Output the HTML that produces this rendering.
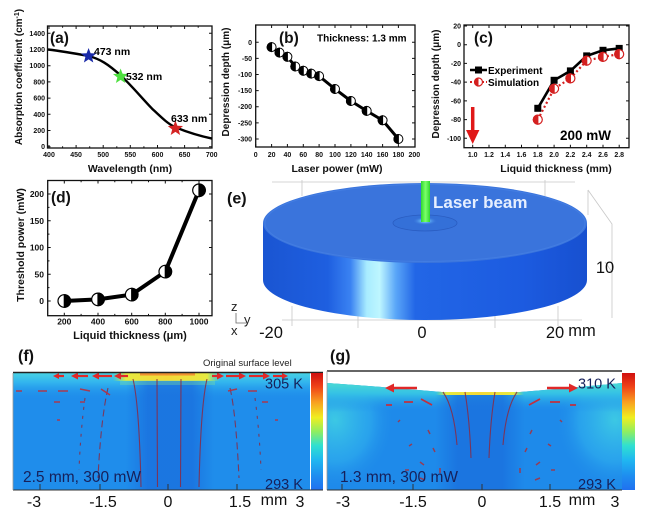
<!DOCTYPE html>
<html><head><meta charset="utf-8">
<style>
html,body{margin:0;padding:0;background:#fff;}
svg{display:block;font-family:"Liberation Sans",Arial,sans-serif;}
.t{font-size:7px;font-weight:bold;fill:#111;}
.ttl{font-size:10.5px;font-weight:bold;fill:#111;}
.pl{font-size:15.5px;font-weight:bold;fill:#111;}
</style></head><body>
<svg width="647" height="517" viewBox="0 0 647 517" xmlns="http://www.w3.org/2000/svg">
<defs>
 <polygon id="star" points="0,-8 2,-2.75 7.61,-2.47 3.23,1.05 4.7,6.47 0,3.4 -4.7,6.47 -3.23,1.05 -7.61,-2.47 -2,-2.75"/>
 <linearGradient id="side" x1="263" x2="587" y1="0" y2="0" gradientUnits="userSpaceOnUse">
  <stop offset="0" stop-color="#1a55d2"/>
  <stop offset="0.2" stop-color="#1e5fe0"/>
  <stop offset="0.27" stop-color="#3a82f2"/>
  <stop offset="0.32" stop-color="#a8ecff"/>
  <stop offset="0.36" stop-color="#bef6ff"/>
  <stop offset="0.41" stop-color="#5aa6f8"/>
  <stop offset="0.47" stop-color="#2266e6"/>
  <stop offset="0.8" stop-color="#1c5be0"/>
  <stop offset="1" stop-color="#1750d0"/>
 </linearGradient>
 <radialGradient id="spot" cx="0.5" cy="0.5" r="0.5">
  <stop offset="0" stop-color="#b8f6ff"/>
  <stop offset="0.4" stop-color="#5aaaf0"/>
  <stop offset="1" stop-color="#3a74dc" stop-opacity="0"/>
 </radialGradient>
 <linearGradient id="beam" x1="0" x2="1" y1="0" y2="0">
  <stop offset="0" stop-color="#30d830"/>
  <stop offset="0.5" stop-color="#7cff6a"/>
  <stop offset="1" stop-color="#30d830"/>
 </linearGradient>
 <linearGradient id="cbar" x1="0" x2="0" y1="0" y2="1">
  <stop offset="0" stop-color="#d01010"/>
  <stop offset="0.12" stop-color="#f04418"/>
  <stop offset="0.25" stop-color="#f8a020"/>
  <stop offset="0.38" stop-color="#f0ee20"/>
  <stop offset="0.5" stop-color="#90ee60"/>
  <stop offset="0.62" stop-color="#30e0d0"/>
  <stop offset="0.74" stop-color="#20b8f0"/>
  <stop offset="0.87" stop-color="#1e90f0"/>
  <stop offset="1" stop-color="#2070f0"/>
 </linearGradient>
 <linearGradient id="fTop" x1="0" x2="0" y1="373" y2="400" gradientUnits="userSpaceOnUse">
  <stop offset="0" stop-color="#48d2e4"/>
  <stop offset="0.35" stop-color="#32b4ee"/>
  <stop offset="1" stop-color="#1f8deb" stop-opacity="0"/>
 </linearGradient>
 <linearGradient id="col" x1="0" x2="1" y1="0" y2="0">
  <stop offset="0" stop-color="#1a70de" stop-opacity="0"/>
  <stop offset="0.25" stop-color="#1a70de" stop-opacity="0.8"/>
  <stop offset="0.75" stop-color="#1a70de" stop-opacity="0.8"/>
  <stop offset="1" stop-color="#1a70de" stop-opacity="0"/>
 </linearGradient>
 <linearGradient id="hot" x1="0" x2="1" y1="0" y2="0">
  <stop offset="0" stop-color="#a0e860" stop-opacity="0"/>
  <stop offset="0.12" stop-color="#e6ea40"/>
  <stop offset="0.5" stop-color="#f4d838"/>
  <stop offset="0.88" stop-color="#e6ea40"/>
  <stop offset="1" stop-color="#a0e860" stop-opacity="0"/>
 </linearGradient>
 <linearGradient id="gTop" x1="0" x2="0" y1="382" y2="412" gradientUnits="userSpaceOnUse">
  <stop offset="0" stop-color="#4cdcd2"/>
  <stop offset="0.4" stop-color="#34c0e6"/>
  <stop offset="1" stop-color="#1e8aea" stop-opacity="0"/>
 </linearGradient>
 <radialGradient id="gCorner" cx="0.5" cy="0.5" r="0.5">
  <stop offset="0" stop-color="#3cc8e4"/>
  <stop offset="0.6" stop-color="#30b2ee" stop-opacity="0.6"/>
  <stop offset="1" stop-color="#1e8aea" stop-opacity="0"/>
 </radialGradient>
 <clipPath id="gClip"><path d="M327,383 Q385,387 442,392 L520,392 Q570,388 622,383 L622,490 L327,490 Z"/></clipPath>
</defs>

<rect width="647" height="517" fill="#fff"/>

<!-- ================= (a) ================= -->
<rect x="47.5" y="26" width="164.5" height="122" fill="none" stroke="#111" stroke-width="1.3"/>
<path d="M49,148v-3M76.1,148v-3M103.2,148v-3M130.3,148v-3M157.5,148v-3M184.6,148v-3M62.6,148v-1.8M89.7,148v-1.8M116.8,148v-1.8M143.9,148v-1.8M171,148v-1.8M198.2,148v-1.8
M49,26v3M76.1,26v3M103.2,26v3M130.3,26v3M157.5,26v3M184.6,26v3M62.6,26v1.8M89.7,26v1.8M116.8,26v1.8M143.9,26v1.8M171,26v1.8M198.2,26v1.8
M47.5,146.7h3M47.5,130.5h3M47.5,114.3h3M47.5,98.1h3M47.5,81.9h3M47.5,65.7h3M47.5,49.5h3M47.5,33.3h3
M212,146.7h-3M212,130.5h-3M212,114.3h-3M212,98.1h-3M212,81.9h-3M212,65.7h-3M212,49.5h-3M212,33.3h-3" stroke="#111" stroke-width="1"/>
<g class="t" text-anchor="end">
<text x="45" y="149.2">0</text><text x="45" y="133">200</text><text x="45" y="116.8">400</text><text x="45" y="100.6">600</text><text x="45" y="84.4">800</text><text x="45" y="68.2">1000</text><text x="45" y="52">1200</text><text x="45" y="35.8">1400</text>
</g>
<g class="t" text-anchor="middle">
<text x="49" y="157">400</text><text x="76.1" y="157">450</text><text x="103.2" y="157">500</text><text x="130.3" y="157">550</text><text x="157.5" y="157">600</text><text x="184.6" y="157">650</text><text x="211.7" y="157">700</text>
</g>
<path d="M48,49.5 C60,51 75,53.5 88.6,56 C100,59 108,64 120.6,75.4 C132,86 140,96 152,108.6 C162,118 168,124 175.4,127.3 C188,132.5 200,136 212,138.6" fill="none" stroke="#000" stroke-width="2.4"/>
<use href="#star" transform="translate(88.6,56)" fill="#1a2aa8"/>
<use href="#star" transform="translate(120.6,76.5)" fill="#4ee040"/>
<use href="#star" transform="translate(175.4,128.5)" fill="#d42424"/>
<text x="94" y="55" style="font-size:10.5px;font-weight:bold">473 nm</text>
<text x="126" y="80" style="font-size:10.5px;font-weight:bold">532 nm</text>
<text x="171" y="122" style="font-size:10.5px;font-weight:bold">633 nm</text>
<text x="50" y="43" class="pl">(a)</text>
<text class="ttl" x="130" y="172" text-anchor="middle">Wavelength (nm)</text>
<text class="ttl" transform="translate(22,77) rotate(-90)" text-anchor="middle" style="font-size:10px">Absorption coefficient (cm<tspan dy="-3" style="font-size:7px">-1</tspan><tspan dy="3">)</tspan></text>

<!-- ================= (b) ================= -->
<rect x="255.7" y="25" width="159.3" height="122" fill="none" stroke="#111" stroke-width="1.3"/>
<path d="M255.7,147v-3M271.6,147v-3M287.4,147v-3M303.3,147v-3M319.1,147v-3M335,147v-3M350.9,147v-3M366.7,147v-3M382.6,147v-3M398.4,147v-3
M255.7,25v3M271.6,25v3M287.4,25v3M303.3,25v3M319.1,25v3M335,25v3M350.9,25v3M366.7,25v3M382.6,25v3M398.4,25v3
M255.7,42.3h3M255.7,58.4h3M255.7,74.5h3M255.7,90.6h3M255.7,106.7h3M255.7,122.9h3M255.7,139h3
M415,42.3h-3M415,58.4h-3M415,74.5h-3M415,90.6h-3M415,106.7h-3M415,122.9h-3M415,139h-3" stroke="#111" stroke-width="1"/>
<g class="t" text-anchor="end">
<text x="252" y="44.8">0</text><text x="252" y="60.9">-50</text><text x="252" y="77">-100</text><text x="252" y="93.1">-150</text><text x="252" y="109.2">-200</text><text x="252" y="125.4">-250</text><text x="252" y="141.5">-300</text>
</g>
<g class="t" text-anchor="middle">
<text x="255.7" y="157">0</text><text x="271.6" y="157">20</text><text x="287.4" y="157">40</text><text x="303.3" y="157">60</text><text x="319.1" y="157">80</text><text x="335" y="157">100</text><text x="350.9" y="157">120</text><text x="366.7" y="157">140</text><text x="382.6" y="157">160</text><text x="398.4" y="157">180</text><text x="414.3" y="157">200</text>
</g>
<polyline points="271.6,47.1 279.5,52.6 287.4,56.8 295.3,66.5 303.3,70.7 311.2,73.6 319.1,76.1 335,89 350.9,101 366.7,110.9 382.6,120.3 398.4,139" fill="none" stroke="#000" stroke-width="3"/>
<g stroke="#000" stroke-width="1">
<circle cx="271.6" cy="47.1" r="4.5" fill="#fff"/><path d="M271.6,42.6A4.5,4.5 0 0 0 271.6,51.6Z"/>
<circle cx="279.5" cy="52.6" r="4.5" fill="#fff"/><path d="M279.5,48.1A4.5,4.5 0 0 0 279.5,57.1Z"/>
<circle cx="287.4" cy="56.8" r="4.5" fill="#fff"/><path d="M287.4,52.3A4.5,4.5 0 0 0 287.4,61.3Z"/>
<circle cx="295.3" cy="66.5" r="4.5" fill="#fff"/><path d="M295.3,62A4.5,4.5 0 0 0 295.3,71Z"/>
<circle cx="303.3" cy="70.7" r="4.5" fill="#fff"/><path d="M303.3,66.2A4.5,4.5 0 0 0 303.3,75.2Z"/>
<circle cx="311.2" cy="73.6" r="4.5" fill="#fff"/><path d="M311.2,69.1A4.5,4.5 0 0 0 311.2,78.1Z"/>
<circle cx="319.1" cy="76.1" r="4.5" fill="#fff"/><path d="M319.1,71.6A4.5,4.5 0 0 0 319.1,80.6Z"/>
<circle cx="335" cy="89" r="4.5" fill="#fff"/><path d="M335,84.5A4.5,4.5 0 0 0 335,93.5Z"/>
<circle cx="350.9" cy="101" r="4.5" fill="#fff"/><path d="M350.9,96.5A4.5,4.5 0 0 0 350.9,105.5Z"/>
<circle cx="366.7" cy="110.9" r="4.5" fill="#fff"/><path d="M366.7,106.4A4.5,4.5 0 0 0 366.7,115.4Z"/>
<circle cx="382.6" cy="120.3" r="4.5" fill="#fff"/><path d="M382.6,115.8A4.5,4.5 0 0 0 382.6,124.8Z"/>
<circle cx="398.4" cy="139" r="4.5" fill="#fff"/><path d="M398.4,134.5A4.5,4.5 0 0 0 398.4,143.5Z"/>
</g>
<text x="279" y="43" class="pl">(b)</text>
<text x="317" y="41.5" style="font-size:10px;font-weight:bold">Thickness: 1.3 mm</text>
<text class="ttl" x="337" y="172" text-anchor="middle">Laser power (mW)</text>
<text class="ttl" transform="translate(229,82) rotate(-90)" text-anchor="middle" style="font-size:10px">Depression depth (μm)</text>

<!-- ================= (c) ================= -->
<rect x="464" y="25" width="165" height="122.7" fill="none" stroke="#111" stroke-width="1.3"/>
<path d="M472.7,147.7v-3M489,147.7v-3M505.3,147.7v-3M521.5,147.7v-3M537.8,147.7v-3M554.1,147.7v-3M570.4,147.7v-3M586.7,147.7v-3M603,147.7v-3M619.2,147.7v-3
M472.7,25v3M489,25v3M505.3,25v3M521.5,25v3M537.8,25v3M554.1,25v3M570.4,25v3M586.7,25v3M603,25v3M619.2,25v3
M464,26h3M464,44.7h3M464,63.4h3M464,82.1h3M464,100.9h3M464,119.6h3M464,138.3h3
M629,26h-3M629,44.7h-3M629,63.4h-3M629,82.1h-3M629,100.9h-3M629,119.6h-3M629,138.3h-3" stroke="#111" stroke-width="1"/>
<g class="t" text-anchor="end">
<text x="461" y="28.5">20</text><text x="461" y="47.2">0</text><text x="461" y="65.9">-20</text><text x="461" y="84.6">-40</text><text x="461" y="103.4">-60</text><text x="461" y="122.1">-80</text><text x="461" y="140.8">-100</text>
</g>
<g class="t" text-anchor="middle">
<text x="472.7" y="157">1.0</text><text x="489" y="157">1.2</text><text x="505.3" y="157">1.4</text><text x="521.5" y="157">1.6</text><text x="537.8" y="157">1.8</text><text x="554.1" y="157">2.0</text><text x="570.4" y="157">2.2</text><text x="586.7" y="157">2.4</text><text x="603" y="157">2.6</text><text x="619.2" y="157">2.8</text>
</g>
<polyline points="537.8,119.6 554.1,88.7 570.4,78.4 586.7,60.6 603,56.9 619.2,54.1" fill="none" stroke="#d42020" stroke-width="2.2" stroke-dasharray="2 2.5"/>
<polyline points="537.8,108.3 554.1,80.3 570.4,70.9 586.7,55.9 603,50.3 619.2,48.4" fill="none" stroke="#000" stroke-width="2.6"/>
<g fill="#000">
<rect x="534.3" y="104.8" width="7" height="7"/><rect x="550.6" y="76.8" width="7" height="7"/><rect x="566.9" y="67.4" width="7" height="7"/><rect x="583.2" y="52.4" width="7" height="7"/><rect x="599.5" y="46.8" width="7" height="7"/><rect x="615.7" y="44.9" width="7" height="7"/>
</g>
<g stroke="#d42020" stroke-width="1.2">
<circle cx="537.8" cy="119.6" r="4.5" fill="#fff"/><path d="M537.8,115.1A4.5,4.5 0 0 0 537.8,124.1Z" fill="#d42020"/>
<circle cx="554.1" cy="88.7" r="4.5" fill="#fff"/><path d="M554.1,84.2A4.5,4.5 0 0 0 554.1,93.2Z" fill="#d42020"/>
<circle cx="570.4" cy="78.4" r="4.5" fill="#fff"/><path d="M570.4,73.9A4.5,4.5 0 0 0 570.4,82.9Z" fill="#d42020"/>
<circle cx="586.7" cy="60.6" r="4.5" fill="#fff"/><path d="M586.7,56.1A4.5,4.5 0 0 0 586.7,65.1Z" fill="#d42020"/>
<circle cx="603" cy="56.9" r="4.5" fill="#fff"/><path d="M603,52.4A4.5,4.5 0 0 0 603,61.4Z" fill="#d42020"/>
<circle cx="619.2" cy="54.1" r="4.5" fill="#fff"/><path d="M619.2,49.6A4.5,4.5 0 0 0 619.2,58.6Z" fill="#d42020"/>
</g>
<!-- legend -->
<line x1="470" y1="70" x2="487" y2="70" stroke="#000" stroke-width="2.4"/>
<rect x="475" y="66.5" width="7" height="7" fill="#000"/>
<text x="488" y="73.8" style="font-size:10px;font-weight:bold">Experiment</text>
<line x1="470" y1="82" x2="487" y2="82" stroke="#d42020" stroke-width="2" stroke-dasharray="2 2"/>
<circle cx="478.5" cy="82" r="4" fill="#fff" stroke="#d42020" stroke-width="1.2"/>
<path d="M478.5,78A4,4 0 0 0 478.5,86Z" fill="#d42020"/>
<text x="488" y="85.8" style="font-size:10px;font-weight:bold">Simulation</text>
<!-- arrow -->
<line x1="472.7" y1="107" x2="472.7" y2="132" stroke="#e01818" stroke-width="3.5"/>
<polygon points="466,130 479.4,130 472.7,144" fill="#e01818"/>
<text x="560" y="140" style="font-size:13.5px;font-weight:bold">200 mW</text>
<text x="474" y="43" class="pl">(c)</text>
<text class="ttl" x="556" y="172" text-anchor="middle">Liquid thickness (mm)</text>
<text class="ttl" transform="translate(439,84) rotate(-90)" text-anchor="middle" style="font-size:10px">Depression depth (μm)</text>

<!-- ================= (d) ================= -->
<rect x="47.7" y="180.5" width="164.3" height="135.2" fill="none" stroke="#111" stroke-width="1.3"/>
<path d="M64.3,315.7v-3M98,315.7v-3M131.7,315.7v-3M165.3,315.7v-3M199,315.7v-3M81.1,315.7v-1.8M114.8,315.7v-1.8M148.5,315.7v-1.8M182.1,315.7v-1.8
M64.3,180.5v3M98,180.5v3M131.7,180.5v3M165.3,180.5v3M199,180.5v3M81.1,180.5v1.8M114.8,180.5v1.8M148.5,180.5v1.8M182.1,180.5v1.8
M47.7,301h3M47.7,274.3h3M47.7,247.5h3M47.7,220.8h3M47.7,194h3M47.7,287.6h1.8M47.7,260.9h1.8M47.7,234.1h1.8M47.7,207.4h1.8
M212,301h-3M212,274.3h-3M212,247.5h-3M212,220.8h-3M212,194h-3" stroke="#111" stroke-width="1"/>
<g class="t" text-anchor="end" style="font-size:8.5px">
<text x="44" y="304">0</text><text x="44" y="277.3">50</text><text x="44" y="250.5">100</text><text x="44" y="223.8">150</text><text x="44" y="197">200</text>
</g>
<g class="t" text-anchor="middle" style="font-size:8.5px">
<text x="64.3" y="324.5">200</text><text x="98" y="324.5">400</text><text x="131.7" y="324.5">600</text><text x="165.3" y="324.5">800</text><text x="199" y="324.5">1000</text>
</g>
<polyline points="64.3,301 98,299.4 131.7,294.6 165.3,271.6 199,190.3" fill="none" stroke="#000" stroke-width="4"/>
<g stroke="#000" stroke-width="1.2">
<circle cx="64.3" cy="301" r="6.3" fill="#fff"/><path d="M64.3,294.7A6.3,6.3 0 0 1 64.3,307.3Z"/>
<circle cx="98" cy="299.4" r="6.3" fill="#fff"/><path d="M98,293.1A6.3,6.3 0 0 1 98,305.7Z"/>
<circle cx="131.7" cy="294.6" r="6.3" fill="#fff"/><path d="M131.7,288.3A6.3,6.3 0 0 1 131.7,300.9Z"/>
<circle cx="165.3" cy="271.6" r="6.3" fill="#fff"/><path d="M165.3,265.3A6.3,6.3 0 0 1 165.3,277.9Z"/>
<circle cx="199" cy="190.3" r="6.3" fill="#fff"/><path d="M199,184A6.3,6.3 0 0 1 199,196.6Z"/>
</g>
<text x="51" y="202.5" class="pl">(d)</text>
<text class="ttl" x="130" y="339" text-anchor="middle" style="font-size:11px">Liquid thickness (μm)</text>
<text class="ttl" transform="translate(24,245) rotate(-90)" text-anchor="middle" style="font-size:10.5px">Threshold power (mW)</text>

<!-- ================= (e) ================= -->
<g stroke="#c8c8c8" stroke-width="0.8" fill="none">
<path d="M272,182 H575"/>
<path d="M302,180 V196 M545,180 V196"/>
<path d="M282,320 H582"/>
<path d="M292,306 V326 M358,312 V328 M495,312 V328 M558,306 V326"/>
<path d="M588,190 L612,224 V318 M588,190 V215 M605,262 L612,272"/>
</g>
<path d="M263,223 L263,280 A162,40 0 0 0 587,280 L587,223 Z" fill="url(#side)"/>
<ellipse cx="425" cy="223" rx="162" ry="40" fill="#3a74dc"/>
<ellipse cx="425" cy="223" rx="160" ry="38.5" fill="none" stroke="#4a84e6" stroke-width="1" opacity="0.6"/>
<ellipse cx="425" cy="223" rx="32" ry="8" fill="#3470d8" stroke="#2a5cc0" stroke-width="0.8"/>
<ellipse cx="425" cy="221" rx="12" ry="4" fill="url(#spot)"/>
<rect x="421" y="181" width="9" height="41" fill="url(#beam)"/>
<text x="433" y="208" style="font-size:17px;font-weight:bold;fill:#e6efff">Laser beam</text>
<text x="227" y="203.5" class="pl" style="font-size:16px">(e)</text>
<g style="font-size:16.5px;fill:#111" text-anchor="middle">
<text x="271" y="338">-20</text><text x="422" y="338">0</text><text x="555" y="338">20</text><text x="582" y="336">mm</text><text x="605" y="273">10</text>
</g>
<g style="font-size:13px;fill:#222">
<text x="231" y="311">z</text><text x="244" y="324">y</text><text x="231" y="335">x</text>
</g>
<path d="M236,313 V323 H246" stroke="#666" stroke-width="0.8" fill="none"/>

<!-- ================= (f) ================= -->
<rect x="13" y="373" width="297" height="117" fill="#1f8deb"/>
<rect x="13" y="373" width="297" height="28" fill="url(#fTop)"/>
<rect x="126" y="380" width="88" height="110" fill="url(#col)"/>
<rect x="113" y="373" width="107" height="8" fill="url(#hot)"/>
<rect x="140" y="373" width="55" height="2.5" fill="#f08a30" opacity="0.9"/>
<rect x="120" y="380" width="95" height="5" fill="#7ee0a0" opacity="0.35"/>
<g stroke="#8a2a44" stroke-width="1.1" fill="none" opacity="0.85">
<path d="M133,379 C138,400 140,440 141,487"/>
<path d="M157,379 L157.5,487"/>
<path d="M181,379 L180.5,487"/>
<path d="M207,379 C202,400 200,440 199,487"/>
<path d="M108,388 C104,405 100,435 98,478" stroke-dasharray="7 4"/>
<path d="M230,388 C234,405 237,435 239,478" stroke-dasharray="7 4"/>
<path d="M85,398 C82,420 80,445 79,470" stroke-dasharray="3 6"/>
<path d="M255,398 C258,420 260,445 261,470" stroke-dasharray="3 6"/>
</g>
<g stroke="#e02828" stroke-width="2.2" fill="#e02828">
<line x1="128" y1="376" x2="120" y2="376"/><polygon points="114,376 121,372.5 121,379.5" stroke="none"/>
<line x1="112" y1="376" x2="98" y2="376"/><polygon points="92,376 99,372.5 99,379.5" stroke="none"/>
<line x1="88" y1="376" x2="77" y2="376"/><polygon points="71,376 78,372.5 78,379.5" stroke="none"/>
<line x1="64" y1="376" x2="58" y2="376"/><polygon points="53,376 59,373 59,379" stroke="none"/>
<line x1="212" y1="376" x2="218" y2="376"/><polygon points="224,376 217,372.5 217,379.5" stroke="none"/>
<line x1="226" y1="376" x2="239" y2="376"/><polygon points="246,376 239,372.5 239,379.5" stroke="none"/>
<line x1="249" y1="376" x2="263" y2="376"/><polygon points="270,376 263,372.5 263,379.5" stroke="none"/>
<line x1="273" y1="376" x2="282" y2="376"/><polygon points="288,376 282,373 282,379" stroke="none"/>
</g>
<g stroke="#b83040" stroke-width="1.6" fill="none" opacity="0.9">
<path d="M47,391 H38 M68,391 H58 M90,391 L80,389 M110,395 L101,389 M228,391 L237,389 M248,391 H257 M22,391 H16"/>
<path d="M60,402 H54 M85,402 H80 M262,402 H268 M60,420 h-3 M275,420 h3"/>
</g>
<line x1="13" y1="372.5" x2="323" y2="372.5" stroke="#222" stroke-width="1.5"/>
<rect x="311" y="373" width="12" height="117" fill="url(#cbar)"/>
<line x1="13" y1="490" x2="323" y2="490" stroke="#333" stroke-width="1"/>
<line x1="13" y1="373" x2="13" y2="490" stroke="#999" stroke-width="0.8"/>
<path d="M40,490v-6M100,490v-6M168,490v-6M237,490v-6" stroke="#333" stroke-width="1"/>
<text x="18" y="361" class="pl" style="font-size:16px">(f)</text>
<text x="203" y="366" style="font-size:9.5px;fill:#222">Original surface level</text>
<g style="font-size:14.5px;fill:#16205a">
<text x="265" y="388.5">305 K</text><text x="265" y="489">293 K</text>
<text x="23" y="482" style="font-size:15.5px">2.5 mm, 300 mW</text>
</g>
<g style="font-size:16px;fill:#111" text-anchor="middle">
<text x="34" y="507">-3</text><text x="103" y="507">-1.5</text><text x="168" y="507">0</text><text x="240" y="507">1.5</text><text x="274" y="505">mm</text><text x="300" y="507">3</text>
</g>

<!-- ================= (g) ================= -->
<g clip-path="url(#gClip)">
<rect x="327" y="380" width="295" height="110" fill="#1e8aea"/>
<ellipse cx="335" cy="420" rx="60" ry="70" fill="url(#gCorner)"/>
<ellipse cx="615" cy="420" rx="60" ry="70" fill="url(#gCorner)"/>
<rect x="327" y="380" width="295" height="35" fill="url(#gTop)"/>
<rect x="435" y="395" width="90" height="95" fill="url(#col)"/>
<rect x="436" y="388" width="88" height="7" fill="url(#hot)"/>
<rect x="445" y="390" width="70" height="1.8" fill="#f08a30"/>
</g>
<g stroke="#8a2a44" stroke-width="1.1" fill="none" opacity="0.85">
<path d="M443,392 C450,402 455,420 457,445"/>
<path d="M465,392 C468,410 470,430 471,458"/>
<path d="M495,392 C492,410 490,430 489,458"/>
<path d="M517,392 C510,402 505,420 503,445"/>
</g>
<g stroke="#a8303e" stroke-width="1.5" fill="none" opacity="0.85">
<path d="M428,430 l2,4 M433,448 l2,4 M420,462 l4,3 M412,444 l-3,2 M405,470 h4 M420,478 l5,2"/>
<path d="M532,430 l-2,4 M527,448 l-2,4 M540,462 l-4,3 M548,444 l3,2 M555,470 h-4 M540,478 l-5,2"/>
<path d="M400,420 l-2,2 M560,420 l2,2 M440,468 v5 M520,468 v5"/>
</g>
<g stroke="#e02828" stroke-width="2.6" fill="#e02828">
<line x1="417" y1="388" x2="393" y2="388"/><polygon points="385,388 394,383.5 394,392.5" stroke="none"/>
<line x1="547" y1="388" x2="570" y2="388"/><polygon points="578,388 569,383.5 569,392.5" stroke="none"/>
</g>
<g stroke="#c03040" stroke-width="1.8" fill="none">
<path d="M413,402 H404 M432,405 L421,399 M529,405 L540,399 M550,402 H560 M392,405 H386 M570,405 H576"/>
</g>
<line x1="327" y1="371" x2="622" y2="371" stroke="#333" stroke-width="1.5"/>
<line x1="327" y1="371" x2="327" y2="490" stroke="#999" stroke-width="0.8"/>
<rect x="622" y="373" width="13" height="117" fill="url(#cbar)"/>
<line x1="327" y1="490" x2="622" y2="490" stroke="#333" stroke-width="1"/>
<path d="M342,490v-6M413,490v-6M482,490v-6M550,490v-6" stroke="#333" stroke-width="1"/>
<text x="330" y="361" class="pl" style="font-size:16px">(g)</text>
<g style="font-size:14.5px;fill:#16205a">
<text x="578" y="388.5">310 K</text><text x="578" y="489">293 K</text>
<text x="340" y="482" style="font-size:15.5px">1.3 mm, 300 mW</text>
</g>
<g style="font-size:16px;fill:#111" text-anchor="middle">
<text x="343" y="507">-3</text><text x="413" y="507">-1.5</text><text x="482" y="507">0</text><text x="550" y="507">1.5</text><text x="582" y="505">mm</text><text x="615" y="507">3</text>
</g>
</svg>
</body></html>
